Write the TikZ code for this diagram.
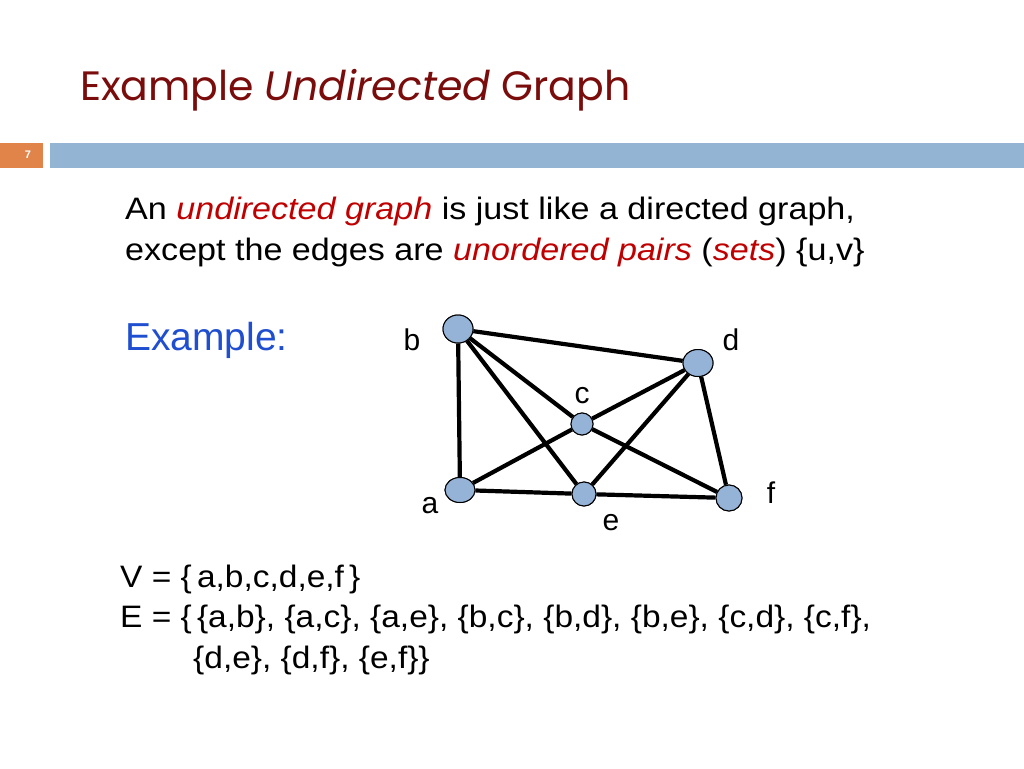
\documentclass[tikz,border=0pt]{standalone}
\usepackage{fontspec}
\setmainfont{Liberation Sans}
\newfontfamily\titlefont{Poppins}
\newfontfamily\bodyfont[FakeStretch=1.1]{Liberation Sans}
\newfontfamily\setfont[FakeStretch=1.08]{Liberation Sans}
\usetikzlibrary{shapes.geometric}
\definecolor{titlered}{HTML}{7A0C0C}
\definecolor{barorange}{HTML}{E0844A}
\definecolor{barblue}{HTML}{93B5D3}
\definecolor{emred}{HTML}{C00000}
\definecolor{exblue}{HTML}{1F4FD0}
\definecolor{vfill}{HTML}{95B3D7}
\tikzset{
  vert/.style={ellipse,draw=black,line width=1pt,fill=vfill,inner sep=0pt},
  lbl/.style={font=\fontsize{30}{32}\selectfont,inner sep=0pt,anchor=base},
  edge/.style={line width=4.2pt,black},
  body/.style={anchor=base west,inner sep=0pt,font=\bodyfont\fontsize{31}{36}\selectfont},
  sets/.style={anchor=base west,inner sep=0pt,font=\setfont\fontsize{31}{36}\selectfont}
}
\begin{document}
\begin{tikzpicture}[x=1pt,y=-1pt]
\useasboundingbox (0,0) rectangle (1024,768);
\fill[white] (0,0) rectangle (1024,768);
% title
\node[anchor=base west,inner sep=0pt,text=titlered,font=\titlefont\fontsize{41}{46}\selectfont] (title) at (80,100) {Example \textit{Undirected} Graph};
% bar
\fill[barorange] (0,143) rectangle (43,168);
\fill[barblue] (50,143) rectangle (1024,168);
\node[text=white,font=\fontsize{11}{12}\selectfont\bfseries,inner sep=0pt] (num) at (28,155) {7};
% body text
\node[body] (l1) at (125,219) {An \textcolor{emred}{\textit{undirected graph}} is just like a directed graph,};
\node[body] (l2) at (125,260) {except the edges are \textcolor{emred}{\textit{unordered pairs}} (\textcolor{emred}{\textit{sets}}) \{u,v\}};
\node[anchor=base west,inner sep=0pt,text=exblue,font=\fontsize{39}{42}\selectfont] (ex) at (125,350) {Example:};
% vertices
\node[vert,minimum width=30pt,minimum height=28pt] (b) at (458,329) {};
\node[vert,minimum width=30pt,minimum height=27pt] (d) at (698,363) {};
\node[vert,minimum width=22pt,minimum height=22pt] (c) at (582,424) {};
\node[vert,minimum width=30pt,minimum height=25pt] (a) at (460,490) {};
\node[vert,minimum width=24pt,minimum height=24pt] (e) at (584,494) {};
\node[vert,minimum width=26pt,minimum height=26pt] (f) at (729,498) {};
% edges
\draw[edge] (a) -- (b);
\draw[edge] (a) -- (c);
\draw[edge] (a) -- (e);
\draw[edge] (b) -- (c);
\draw[edge] (b) -- (d);
\draw[edge] (b) -- (e);
\draw[edge] (c) -- (d);
\draw[edge] (c) -- (f);
\draw[edge] (d) -- (e);
\draw[edge] (d) -- (f);
\draw[edge] (e) -- (f);
% redraw vertices on top
\node[vert,minimum width=30pt,minimum height=28pt] at (458,329) {};
\node[vert,minimum width=30pt,minimum height=27pt] at (698,363) {};
\node[vert,minimum width=22pt,minimum height=22pt] at (582,424) {};
\node[vert,minimum width=30pt,minimum height=25pt] at (460,490) {};
\node[vert,minimum width=24pt,minimum height=24pt] at (584,494) {};
\node[vert,minimum width=26pt,minimum height=26pt] at (729,498) {};
% labels
\node[lbl] (lb) at (412,350) {b};
\node[lbl] (ld) at (731,350) {d};
\node[lbl] (lc) at (582,403) {c};
\node[lbl] (la) at (430,513) {a};
\node[lbl] (le) at (611,530) {e};
\node[lbl] (lf) at (771,503) {f};
% sets
\node[sets] (V) at (120,587) {V = \{\,a,b,c,d,e,f\,\}};
\node[sets] (E1) at (120,627) {E = \{\,\{a,b\}, \{a,c\}, \{a,e\}, \{b,c\}, \{b,d\}, \{b,e\}, \{c,d\}, \{c,f\},};
\node[sets] (E2) at (193,668) {\{d,e\}, \{d,f\}, \{e,f\}\}};
\end{tikzpicture}
\end{document}
